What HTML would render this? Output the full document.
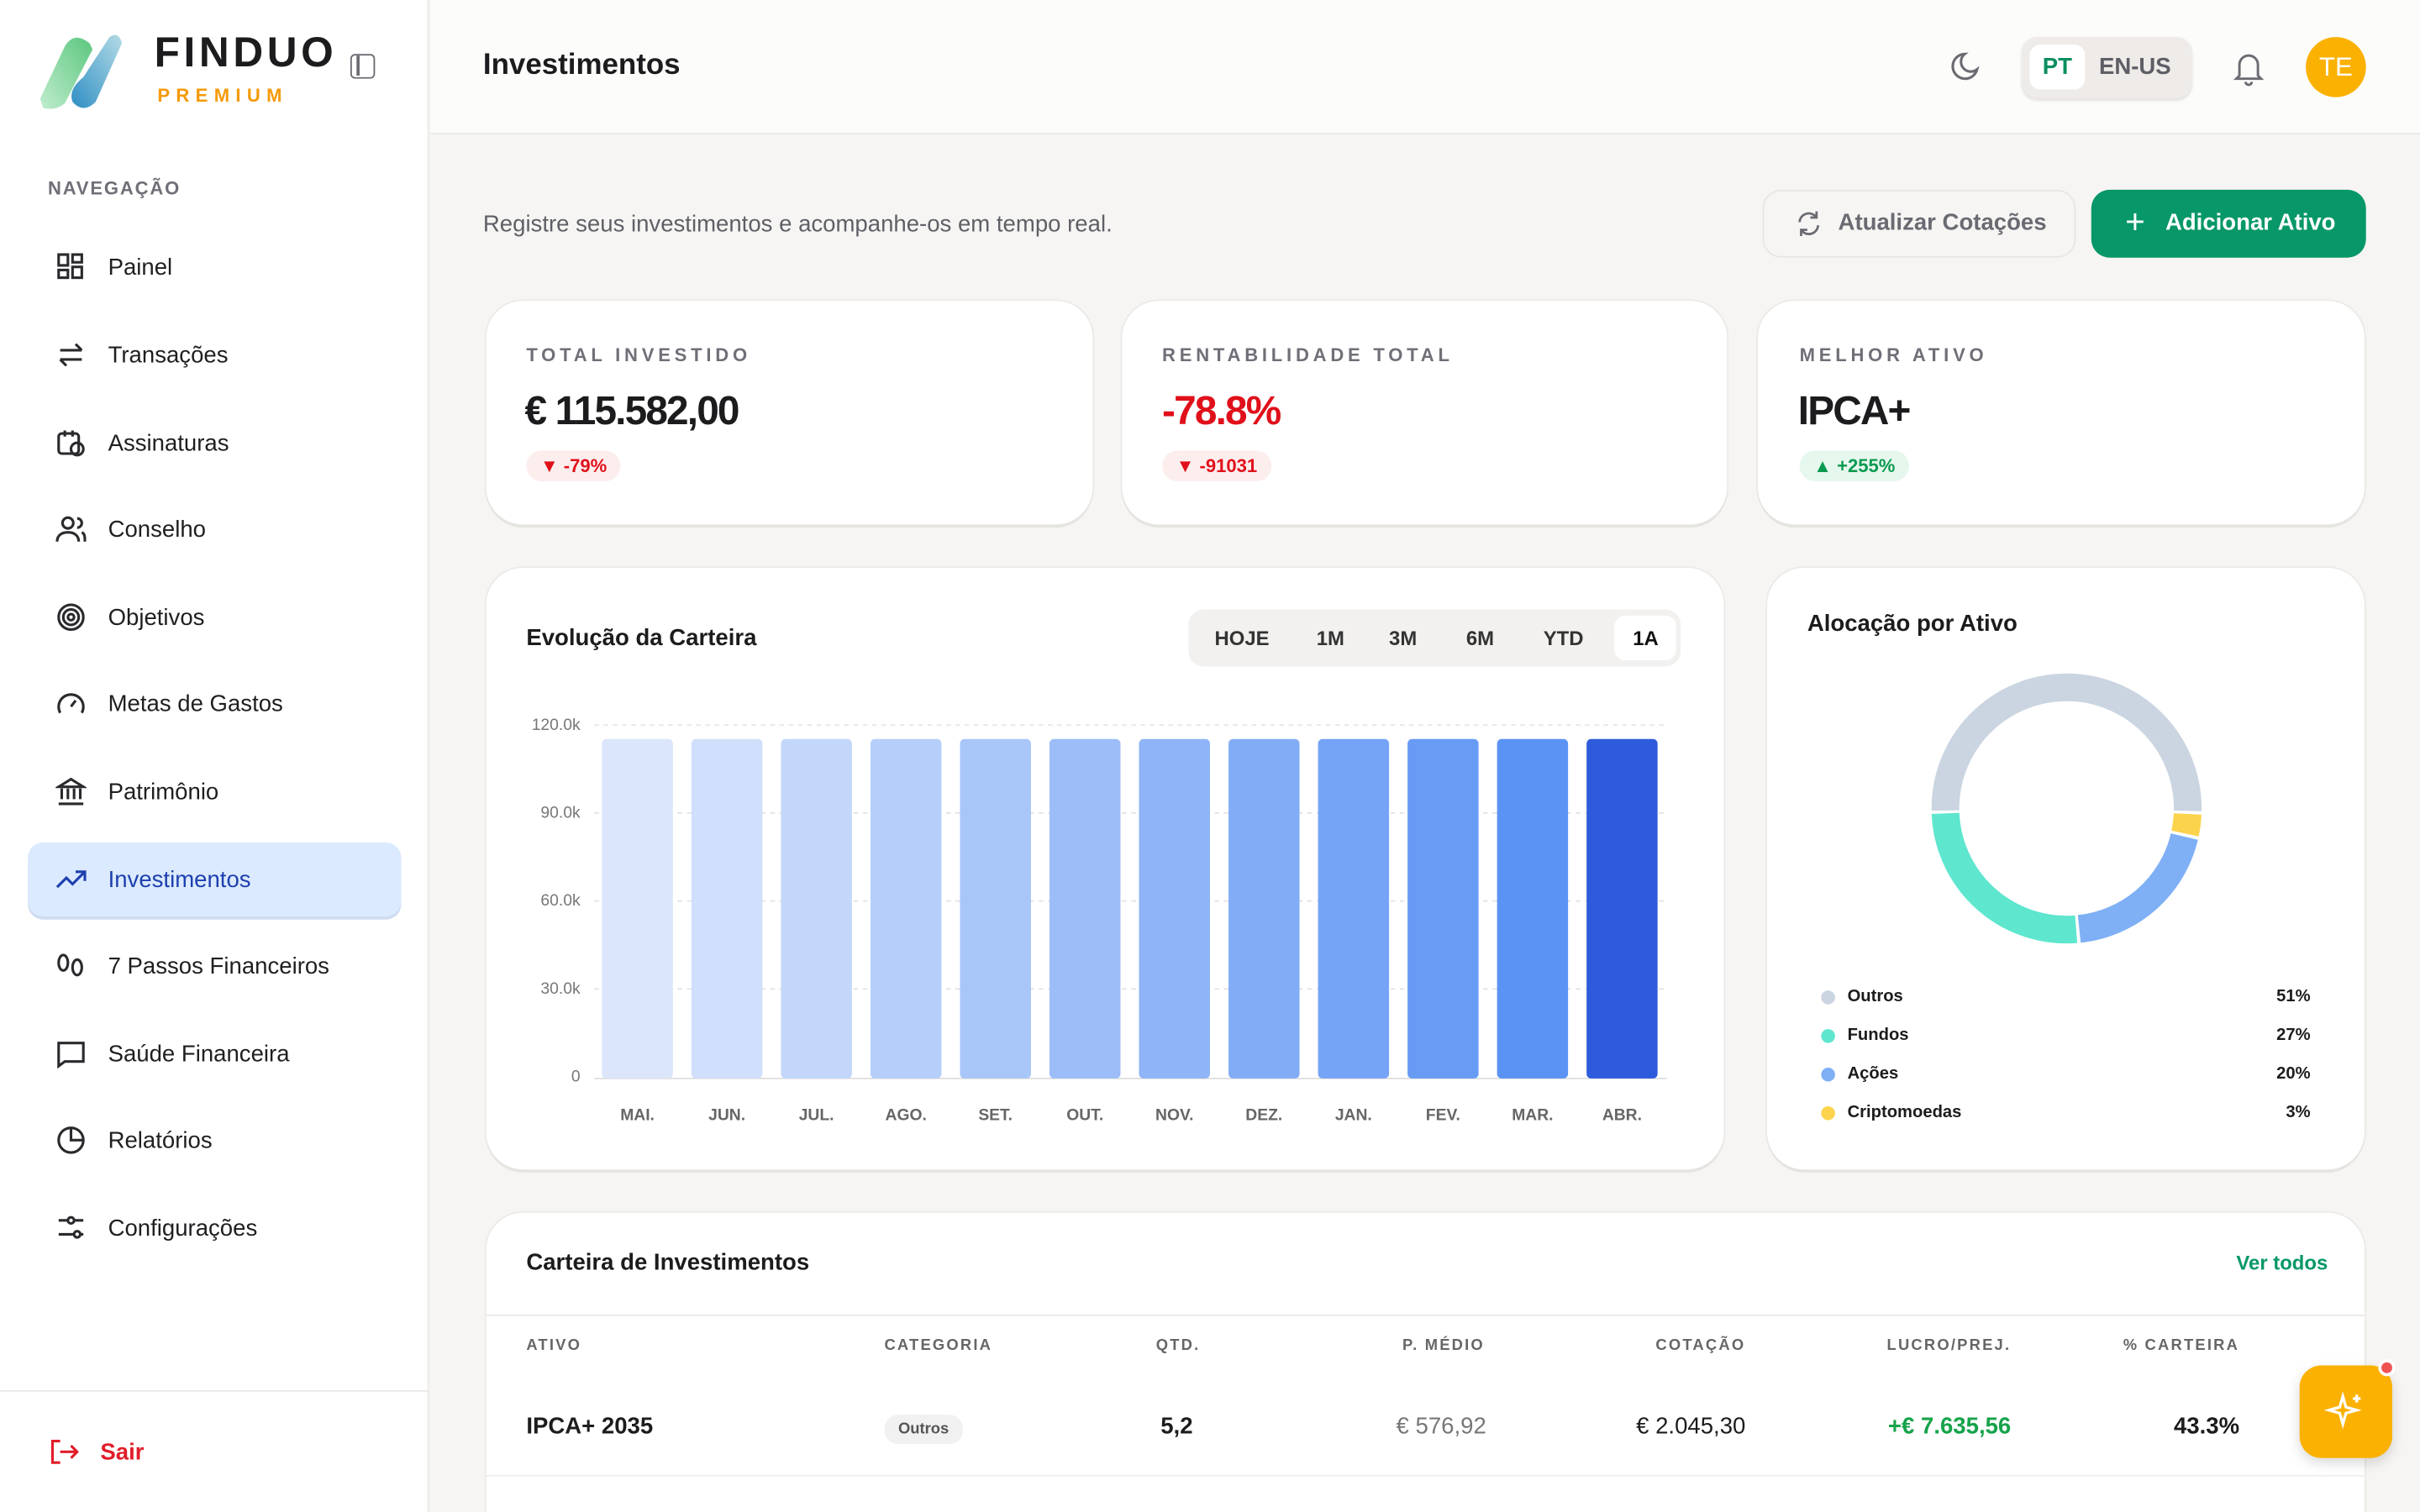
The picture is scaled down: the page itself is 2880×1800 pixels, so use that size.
<!DOCTYPE html>
<html><head><meta charset="utf-8">
<style>
*{box-sizing:border-box;margin:0;padding:0}
html,body{width:2880px;height:1800px;overflow:hidden;background:#f6f5f3}
#r{width:1568px;height:980px;transform:scale(1.836735);transform-origin:0 0;position:relative;font-family:"Liberation Sans",sans-serif;color:#1c1c1e;background:#f6f5f3}
.a{position:absolute}
.sb{left:0;top:0;width:278px;height:980px;background:#fff;border-right:1px solid #ebe9e6}
.nav{position:absolute;left:36px;font-size:15px;color:#1f1f22;display:flex;align-items:center;height:20px}
.nav svg{width:20px;height:20px;margin-right:14px;fill:none;stroke:#2a2a2e;stroke-width:1.7}
.card{position:absolute;background:#fff;border-radius:24px;box-shadow:0 2px 0 #e6e4e0,0 0 0 1px #eceae7}
.lbl{font-size:12px;letter-spacing:2.6px;color:#6f6f78;font-weight:bold}
.big{font-size:26px;font-weight:bold;letter-spacing:-1px}
.pill{display:inline-block;border-radius:10px;padding:3px 9px;font-size:12px;font-weight:bold}
.yl{position:absolute;font-size:10.5px;color:#777;right:0}
.xl{position:absolute;font-size:10.5px;color:#666;font-weight:bold;width:46px;text-align:center;top:717px}
.th{position:absolute;top:867px;font-size:10px;font-weight:bold;letter-spacing:1.2px;color:#666}
.lg{position:absolute;left:1180px;font-size:11px;font-weight:bold;display:flex;align-items:center}
.lg i{width:9px;height:9px;border-radius:50%;display:inline-block;margin-right:8px}
.pc{position:absolute;right:71px;font-size:11px;font-weight:bold}
</style></head><body><div id="r">
<div class="a sb"></div>
<svg class="a" style="left:24px;top:22px" width="68" height="50" viewBox="0 0 68 50">
<defs><linearGradient id="g1" x1="0" y1="1" x2="1" y2="0"><stop offset="0" stop-color="#bfeccd"/><stop offset="1" stop-color="#5cc77e"/></linearGradient>
<linearGradient id="g2" x1="0" y1="1" x2="1" y2="0"><stop offset="0" stop-color="#2f8fc4"/><stop offset="1" stop-color="#b4dbe6"/></linearGradient></defs>
<path d="M2 42 L18 8 Q24 -2 34 6 L36 10 L18 45 Q12 50 4 48 Z" fill="url(#g1)"/>
<path d="M30 28 L47 2 Q53 -2 55 6 L38 44 Q30 52 23 44 Q20 36 30 28Z" fill="url(#g2)"/>
</svg>
<div class="a" style="left:100px;top:19px;font-size:27px;font-weight:bold;letter-spacing:2.5px">FINDUO</div>
<div class="a" style="left:102px;top:55px;font-size:12px;font-weight:bold;letter-spacing:4px;color:#f59a0a">PREMIUM</div>
<div class="a" style="left:227px;top:35px;width:16px;height:16px;border:1.6px solid #6b6b72;border-radius:3px"><div style="position:absolute;left:3px;top:0;width:1.6px;height:13px;background:#6b6b72"></div></div>
<div class="a" style="left:31px;top:115px;font-size:12px;font-weight:bold;letter-spacing:1px;color:#6f6f78">NAVEGAÇÃO</div>
<div class="a" style="left:18px;top:546px;width:242px;height:48px;background:#dbeafe;border-radius:10px;box-shadow:0 2px 0 #cfdcf0"></div>
<div class="nav" style="top:163px"><svg viewBox="0 0 20 20"><rect x="2" y="2" width="6" height="7"/><rect x="11" y="2" width="6" height="5"/><rect x="2" y="12" width="6" height="5"/><rect x="11" y="10" width="6" height="7"/></svg>Painel</div>
<div class="nav" style="top:220px"><svg viewBox="0 0 20 20"><path d="M3 7h14M13 3l4 4M17 13H3M7 17l-4-4"/></svg>Transações</div>
<div class="nav" style="top:277px"><svg viewBox="0 0 20 20"><rect x="2" y="4" width="13" height="13" rx="2"/><circle cx="14" cy="14" r="4"/><path d="M6 2v4M11 2v4"/></svg>Assinaturas</div>
<div class="nav" style="top:333px"><svg viewBox="0 0 20 20"><circle cx="8" cy="6" r="3.5"/><path d="M1 18c0-4 3-6 7-6s7 2 7 6M14 3a3 3 0 010 6M17 12c2 1 2 3 2 6"/></svg>Conselho</div>
<div class="nav" style="top:390px"><svg viewBox="0 0 20 20"><circle cx="10" cy="10" r="8"/><circle cx="10" cy="10" r="5"/><circle cx="10" cy="10" r="2"/></svg>Objetivos</div>
<div class="nav" style="top:446px"><svg viewBox="0 0 20 20"><path d="M3 16a8 8 0 1114 0M10 12l3-4"/></svg>Metas de Gastos</div>
<div class="nav" style="top:503px"><svg viewBox="0 0 20 20"><path d="M2 7l8-5 8 5zM4 8v7M8 8v7M12 8v7M16 8v7M2 18h16"/></svg>Patrimônio</div>
<div class="nav" style="top:560px;color:#1e40af"><svg viewBox="0 0 20 20" style="stroke:#1e40af"><path d="M1 15l6-6 4 4 8-8M13 5h6v6"/></svg>Investimentos</div>
<div class="nav" style="top:616px"><svg viewBox="0 0 20 20"><ellipse cx="5" cy="8" rx="3" ry="5"/><ellipse cx="14" cy="11" rx="3" ry="5"/></svg>7 Passos Financeiros</div>
<div class="nav" style="top:673px"><svg viewBox="0 0 20 20"><path d="M2 3h16v12H6l-4 3z"/></svg>Saúde Financeira</div>
<div class="nav" style="top:729px"><svg viewBox="0 0 20 20"><circle cx="10" cy="10" r="8"/><path d="M10 2v8h8"/></svg>Relatórios</div>
<div class="nav" style="top:786px"><svg viewBox="0 0 20 20"><path d="M2 5h6M12 5h6M2 14h10M16 14h2"/><circle cx="10" cy="5" r="2"/><circle cx="14" cy="14" r="2"/></svg>Configurações</div>
<div class="a" style="left:0;top:901px;width:278px;height:1px;background:#ebe9e6"></div>
<div class="nav" style="top:931px;left:31px;color:#e11d2a;font-weight:bold"><svg viewBox="0 0 20 20" style="stroke:#e11d2a"><path d="M8 3H3v14h5M8 10h11M15 6l4 4-4 4"/></svg>Sair</div>

<div class="a" style="left:279px;top:0;width:1289px;height:87px;background:#fcfcfb;border-bottom:1px solid #ebe9e6"></div>
<div class="a" style="left:313px;top:32px;font-size:19px;font-weight:bold">Investimentos</div>
<svg class="a" style="left:1262px;top:33px" width="22" height="22" viewBox="0 0 22 22"><path d="M11 2a8 8 0 108 10A6 6 0 0111 2z" fill="none" stroke="#6b6b72" stroke-width="1.7"/></svg>
<div class="a" style="left:1310px;top:24px;width:110px;height:40px;background:#eeebe8;border-radius:10px;box-shadow:0 1px 2px #ddd"></div>
<div class="a" style="left:1315px;top:29px;width:36px;height:29px;background:#fff;border-radius:7px;color:#0a8f5f;font-weight:bold;font-size:15px;text-align:center;line-height:29px">PT</div>
<div class="a" style="left:1360px;top:35px;font-weight:bold;font-size:15px;color:#5e5e66">EN-US</div>
<svg class="a" style="left:1446px;top:32px" width="22" height="24" viewBox="0 0 22 24"><path d="M5 17V10a6 6 0 0112 0v7l2 2H3zM9 21a2 2 0 004 0" fill="none" stroke="#6b6b72" stroke-width="1.6"/></svg>
<div class="a" style="left:1494px;top:24px;width:39px;height:39px;border-radius:50%;background:#fbb101;color:#fff;font-size:17px;text-align:center;line-height:39px">TE</div>

<div class="a" style="left:313px;top:137px;font-size:15px;color:#5f5f66">Registre seus investimentos e acompanhe-os em tempo real.</div>
<div class="a" style="left:1142px;top:123px;width:203px;height:44px;border:1px solid #e8e6e3;border-radius:12px;color:#6a6a72;font-weight:bold;font-size:15px;line-height:42px;padding-left:48px">Atualizar Cotações</div>
<svg class="a" style="left:1163px;top:136px" width="18" height="18" viewBox="0 0 18 18"><path d="M3 8a6 6 0 0111-3M15 10a6 6 0 01-11 3M14 1v4h-4M4 17v-4h4" fill="none" stroke="#6a6a72" stroke-width="1.5"/></svg>
<div class="a" style="left:1355px;top:123px;width:178px;height:44px;background:#079768;border-radius:12px;color:#fff;font-weight:bold;font-size:15px;line-height:44px;padding-left:48px">Adicionar Ativo</div>
<div class="a" style="left:1377px;top:133px;color:#fff;font-size:22px;line-height:22px">+</div>

<div class="card" style="left:315px;top:195px;width:393px;height:145px"></div>
<div class="card" style="left:727px;top:195px;width:392px;height:145px"></div>
<div class="card" style="left:1139px;top:195px;width:393px;height:145px"></div>
<div class="a lbl" style="left:341px;top:223px">TOTAL INVESTIDO</div>
<div class="a big" style="left:340px;top:251px">€ 115.582,00</div>
<div class="a pill" style="left:341px;top:292px;background:#fdeeee;color:#e0101a">▼ -79%</div>
<div class="a lbl" style="left:753px;top:223px">RENTABILIDADE TOTAL</div>
<div class="a big" style="left:753px;top:251px;color:#e0101a">-78.8%</div>
<div class="a pill" style="left:753px;top:292px;background:#fdeeee;color:#e0101a">▼ -91031</div>
<div class="a lbl" style="left:1166px;top:223px">MELHOR ATIVO</div>
<div class="a big" style="left:1165px;top:251px">IPCA+</div>
<div class="a pill" style="left:1166px;top:292px;background:#e6f7ee;color:#0a9a4f">▲ +255%</div>

<div class="card" style="left:315px;top:368px;width:802px;height:390px"></div>
<div class="a" style="left:341px;top:405px;font-size:15px;font-weight:bold">Evolução da Carteira</div>
<div class="a" style="left:770px;top:395px;width:319px;height:37px;background:#f2f1ef;border-radius:10px"></div>
<div class="a" style="left:1046px;top:399px;width:40px;height:29px;background:#fff;border-radius:7px"></div>
<div class="a" style="top:406px;left:787px;font-size:13px;font-weight:bold;color:#333;word-spacing:0">HOJE</div>
<div class="a" style="top:406px;left:853px;font-size:13px;font-weight:bold;color:#333">1M</div>
<div class="a" style="top:406px;left:900px;font-size:13px;font-weight:bold;color:#333">3M</div>
<div class="a" style="top:406px;left:950px;font-size:13px;font-weight:bold;color:#333">6M</div>
<div class="a" style="top:406px;left:1000px;font-size:13px;font-weight:bold;color:#333">YTD</div>
<div class="a" style="top:406px;left:1058px;font-size:13px;font-weight:bold;color:#111">1A</div>
<div class="a" style="left:320px;top:0;width:56px;height:0">
<div class="yl" style="top:464px">120.0k</div><div class="yl" style="top:521px">90.0k</div><div class="yl" style="top:578px">60.0k</div><div class="yl" style="top:635px">30.0k</div><div class="yl" style="top:692px">0</div></div>
<svg class="a" style="left:0;top:0" width="1568" height="980">
<g stroke="#e4e4e4" stroke-dasharray="3 3"><line x1="385" y1="470" x2="1080" y2="470"/><line x1="385" y1="527" x2="1080" y2="527"/><line x1="385" y1="584" x2="1080" y2="584"/><line x1="385" y1="641" x2="1080" y2="641"/></g>
<line x1="385" y1="699" x2="1080" y2="699" stroke="#ddd"/>
<g>
<rect x="390" y="479" width="46" height="220" rx="3" fill="#dbe6fb"/>
<rect x="448" y="479" width="46" height="220" rx="3" fill="#d0dffb"/>
<rect x="506" y="479" width="46" height="220" rx="3" fill="#c3d7fb"/>
<rect x="564" y="479" width="46" height="220" rx="3" fill="#b5cefa"/>
<rect x="622" y="479" width="46" height="220" rx="3" fill="#a9c6f9"/>
<rect x="680" y="479" width="46" height="220" rx="3" fill="#9cbdf8"/>
<rect x="738" y="479" width="46" height="220" rx="3" fill="#8fb4f7"/>
<rect x="796" y="479" width="46" height="220" rx="3" fill="#82acf6"/>
<rect x="854" y="479" width="46" height="220" rx="3" fill="#75a3f5"/>
<rect x="912" y="479" width="46" height="220" rx="3" fill="#689bf4"/>
<rect x="970" y="479" width="46" height="220" rx="3" fill="#5a93f3"/>
<rect x="1028" y="479" width="46" height="220" rx="3" fill="#2d5bdb"/>
</g>
<g transform="rotate(179 1339 524)" fill="none" stroke-width="18">
<circle cx="1339" cy="524" r="78.5" stroke="#cbd5e1" stroke-dasharray="249.5 243.7"/>
<circle cx="1339" cy="524" r="78.5" stroke="#fcd34d" stroke-dasharray="0 251.5 12.8 229" />
<circle cx="1339" cy="524" r="78.5" stroke="#7fb0f5" stroke-dasharray="0 266.3 96.6 130.3"/>
<circle cx="1339" cy="524" r="78.5" stroke="#5ee6cf" stroke-dasharray="0 364.9 126.3 2"/>
</g>
</svg>
<div class="xl" style="left:390px">MAI.</div><div class="xl" style="left:448px">JUN.</div><div class="xl" style="left:506px">JUL.</div><div class="xl" style="left:564px">AGO.</div><div class="xl" style="left:622px">SET.</div><div class="xl" style="left:680px">OUT.</div><div class="xl" style="left:738px">NOV.</div><div class="xl" style="left:796px">DEZ.</div><div class="xl" style="left:854px">JAN.</div><div class="xl" style="left:912px">FEV.</div><div class="xl" style="left:970px">MAR.</div><div class="xl" style="left:1028px">ABR.</div>

<div class="card" style="left:1145px;top:368px;width:387px;height:390px;z-index:-0"></div>
<svg class="a" style="left:0;top:0" width="1568" height="980">
<g transform="rotate(179 1339 524)" fill="none" stroke-width="18">
<circle cx="1339" cy="524" r="78.5" stroke="#cbd5e1" stroke-dasharray="249.5 243.7"/>
<circle cx="1339" cy="524" r="78.5" stroke="#fcd34d" stroke-dasharray="0 251.5 12.8 229"/>
<circle cx="1339" cy="524" r="78.5" stroke="#7fb0f5" stroke-dasharray="0 266.3 96.6 130.3"/>
<circle cx="1339" cy="524" r="78.5" stroke="#5ee6cf" stroke-dasharray="0 364.9 126.3 2"/>
</g></svg>
<div class="a" style="left:1171px;top:396px;font-size:15px;font-weight:bold">Alocação por Ativo</div>
<div class="lg" style="top:640px"><i style="background:#cbd5e1"></i>Outros</div><div class="pc" style="top:640px">51%</div>
<div class="lg" style="top:665px"><i style="background:#5ee6cf"></i>Fundos</div><div class="pc" style="top:665px">27%</div>
<div class="lg" style="top:690px"><i style="background:#7fb0f5"></i>Ações</div><div class="pc" style="top:690px">20%</div>
<div class="lg" style="top:715px"><i style="background:#fcd34d"></i>Criptomoedas</div><div class="pc" style="top:715px">3%</div>

<div class="card" style="left:315px;top:786px;width:1217px;height:230px"></div>
<div class="a" style="left:341px;top:810px;font-size:15px;font-weight:bold">Carteira de Investimentos</div>
<div class="a" style="left:1449px;top:811px;font-size:13px;font-weight:bold;color:#079768">Ver todos</div>
<div class="a" style="left:315px;top:852px;width:1217px;height:1px;background:#ebe9e6"></div>
<div class="th" style="left:341px">ATIVO</div>
<div class="th" style="left:573px">CATEGORIA</div>
<div class="th" style="left:749px">QTD.</div>
<div class="th" style="right:606px">P. MÉDIO</div>
<div class="th" style="right:437px">COTAÇÃO</div>
<div class="th" style="right:265px">LUCRO/PREJ.</div>
<div class="th" style="right:117px">% CARTEIRA</div>
<div class="a" style="left:341px;top:916px;font-size:15px;font-weight:bold">IPCA+ 2035</div>
<div class="a" style="left:573px;top:917px;font-size:10px;font-weight:bold;color:#555;background:#f1f1f1;border-radius:9px;padding:4px 9px">Outros</div>
<div class="a" style="left:752px;top:916px;font-size:15px;font-weight:bold">5,2</div>
<div class="a" style="right:605px;top:916px;font-size:15px;color:#777">€ 576,92</div>
<div class="a" style="right:437px;top:916px;font-size:15px">€ 2.045,30</div>
<div class="a" style="right:265px;top:916px;font-size:15px;font-weight:bold;color:#16a34a">+€ 7.635,56</div>
<div class="a" style="right:117px;top:916px;font-size:15px;font-weight:bold">43.3%</div>
<div class="a" style="left:315px;top:956px;width:1217px;height:1px;background:#f0eeeb"></div>
<div class="a" style="left:1490px;top:885px;width:60px;height:60px;border-radius:14px;background:#fbb101;box-shadow:0 3px 8px rgba(0,0,0,.15)"></div>
<div class="a" style="left:1541px;top:881px;width:11px;height:11px;border-radius:50%;background:#f05252;border:2px solid #fff"></div>
<svg class="a" style="left:1506px;top:901px" width="28" height="28" viewBox="0 0 28 28"><path d="M12 4l2 7 7 2-7 2-2 7-2-7-7-2 7-2zM21 3v5M18.5 5.5h5" fill="none" stroke="#fff" stroke-width="1.8"/></svg>
</div></body></html>
